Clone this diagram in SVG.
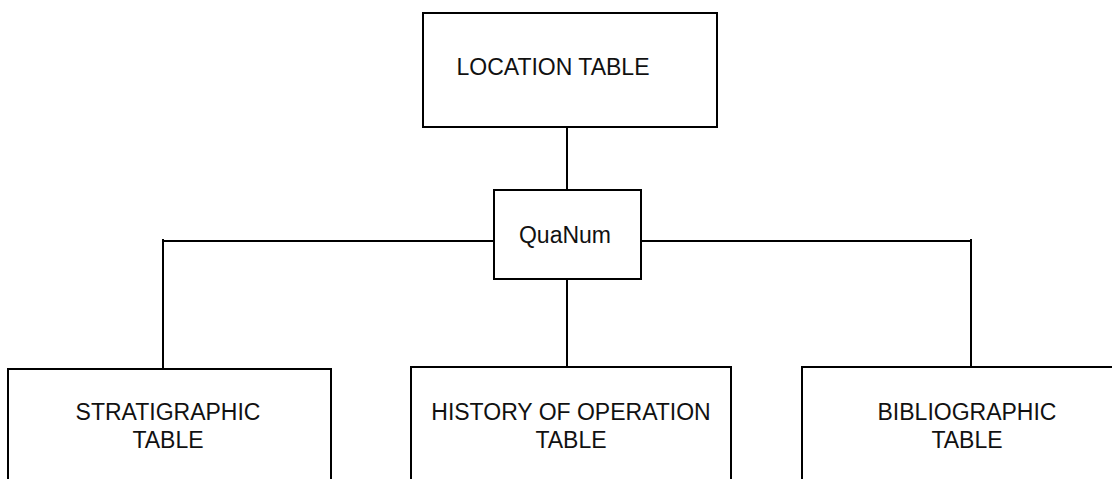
<svg xmlns="http://www.w3.org/2000/svg" width="1112" height="479" viewBox="0 0 1112 479">
<style>
.box{fill:#fff;stroke:#000;stroke-width:2}
.lbl{font-family:"Liberation Sans",Arial,sans-serif;font-size:23px;fill:#111;text-anchor:middle}
.con{stroke:#000;stroke-width:2;fill:none}
</style>
<rect width="1112" height="479" fill="#fff"/>
<g id="connectors">
<line class="con" x1="567" y1="127" x2="567" y2="190"/>
<line class="con" x1="163" y1="241" x2="494" y2="241"/>
<line class="con" x1="641" y1="241" x2="971" y2="241"/>
<line class="con" x1="163" y1="239" x2="163" y2="371"/>
<line class="con" x1="567" y1="279" x2="567" y2="368"/>
<line class="con" x1="971" y1="239" x2="971" y2="368"/>
</g>
<g id="location">
<rect class="box" x="423" y="13" width="294" height="114"/>
<text class="lbl" x="553" y="75">LOCATION TABLE</text>
</g>
<g id="quanum">
<rect class="box" x="494" y="190" width="147" height="89"/>
<text class="lbl" x="565" y="243">QuaNum</text>
</g>
<g id="stratigraphic">
<rect class="box" x="8" y="369" width="323" height="130"/>
<text class="lbl" x="168" y="420">STRATIGRAPHIC</text>
<text class="lbl" x="168" y="448">TABLE</text>
</g>
<g id="history">
<rect class="box" x="411" y="367" width="320" height="130"/>
<text class="lbl" x="571" y="420">HISTORY OF OPERATION</text>
<text class="lbl" x="571" y="448">TABLE</text>
</g>
<g id="bibliographic">
<rect class="box" x="802" y="367" width="330" height="130"/>
<text class="lbl" x="967" y="420">BIBLIOGRAPHIC</text>
<text class="lbl" x="967" y="448">TABLE</text>
</g>
</svg>
